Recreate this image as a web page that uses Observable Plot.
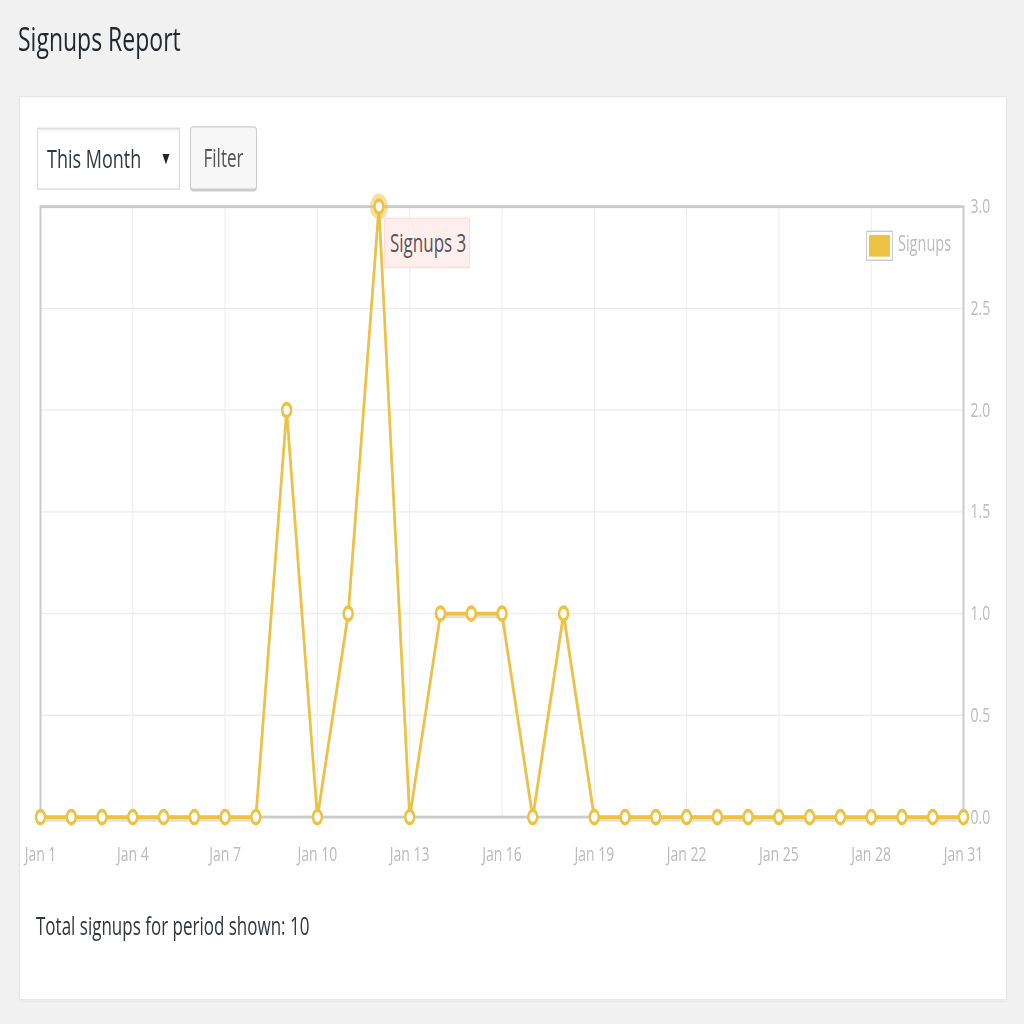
<!DOCTYPE html>
<html>
<head>
<meta charset="utf-8">
<script src="https://cdn.jsdelivr.net/npm/d3@7"></script>
<script src="https://cdn.jsdelivr.net/npm/@observablehq/plot@0.6"></script>
<style>
  html, body { margin: 0; padding: 0; background: #f1f1f1; overflow: hidden; }
  body { width: 1024px; height: 1024px; font-family: "Open Sans", "Noto Sans", sans-serif; }
  #wrap { position: absolute; left: 0; top: 0; width: 1024px; height: 706.2px; transform: scaleY(1.45); transform-origin: 0 0; }
  .abs { position: absolute; }
  #title { left: 18px; top: 15px; font-size: 23px; line-height: 1; color: #23282d; font-weight: 500; margin: 0; }
  #panel { left: 19px; top: 66px; width: 988px; height: 624px; background: #fff; border: 1px solid #e5e5e5; box-sizing: border-box; box-shadow: 0 1px 1px rgba(0,0,0,.04); }
  #select { left: 37px; top: 88px; width: 143px; height: 43px; background: #fff; border: 1px solid #ddd; box-sizing: border-box; box-shadow: inset 0 1px 2px rgba(0,0,0,.07); }
  #select .txt { position: absolute; left: 9px; top: 11px; font-size: 18px; line-height: 1; color: #32373c; }
  #select .arr { position: absolute; left: 122px; top: 14px; font-size: 12px; line-height: 1; color: #222; }
  #filter { left: 190px; top: 87px; width: 67px; height: 44px; background: #f7f7f7; border: 1px solid #ccc; border-radius: 3px; box-sizing: border-box; box-shadow: 0 1px 0 #ccc; font-size: 17px; color: #555; text-align: center; line-height: 42px; }
  #chart { left: 24px; top: 130px; }
  #legbox { left: 866px; top: 159px; width: 27px; height: 21px; border: 1px solid #ccc; box-sizing: border-box; padding: 2px; background: #fff; }
  #legbox div { width: 100%; height: 100%; background: #edc240; }
  #legtxt { left: 898px; top: 161px; font-size: 14.5px; line-height: 1; color: #bbb; }
  #tip { left: 384px; top: 150px; width: 86px; height: 35px; background: #fee; border: 1px solid #fdd; box-sizing: border-box; font-size: 17px; color: #555; line-height: 33px; padding-left: 5px; }
  #total { left: 36px; top: 630px; font-size: 17px; line-height: 1; color: #32373c; }
</style>
</head>
<body>
<div id="wrap">
  <h1 id="title" class="abs">Signups Report</h1>
  <div id="panel" class="abs"></div>
  <div id="select" class="abs"><span class="txt">This Month</span><span class="arr">▼</span></div>
  <div id="filter" class="abs">Filter</div>
  <div id="chart" class="abs"></div>
  <div id="legbox" class="abs"><div></div></div>
  <div id="legtxt" class="abs">Signups</div>
  <div id="tip" class="abs"></div>
  <div id="total" class="abs"></div>
</div>
<script>
// ---- data ----
const seriesName = "Signups";
const monthLabel = "Jan";
const days = [1,2,3,4,5,6,7,8,9,10,11,12,13,14,15,16,17,18,19,20,21,22,23,24,25,26,27,28,29,30,31];
const signups = [0,0,0,0,0,0,0,0,2,0,1,3,0,1,1,1,0,1,0,0,0,0,0,0,0,0,0,0,0,0,0];
const xTicks = [1,4,7,10,13,16,19,22,25,28,31];
const yTicks = [0,0.5,1,1.5,2,2.5,3];

const color = "#edc240";
const data = days.map((d, i) => ({day: d, value: signups[i]}));
const maxVal = d3.max(signups);
const highlight = data.filter(d => d.value === maxVal);

document.getElementById("tip").textContent = `${seriesName} ${maxVal}`;
document.getElementById("total").textContent = `Total signups for period shown: ${d3.sum(signups)}`;

const chart = Plot.plot({
  width: 990,
  height: 490,
  marginLeft: 16,
  marginRight: 51,
  marginTop: 12,
  marginBottom: 57,
  style: {fontFamily: "'Open Sans', 'Noto Sans', sans-serif", fontSize: "14px", color: "#bbb", background: "transparent", overflow: "visible"},
  x: {domain: [1, 31]},
  y: {domain: [0, 3]},
  marks: [
    Plot.ruleX(xTicks, {x: d => d, stroke: "#ececec", strokeWidth: 1}),
    Plot.ruleY(yTicks, {y: d => d, stroke: "#ececec", strokeWidth: 1}),
    Plot.frame({stroke: "#cbcbcb", strokeWidth: 2}),
    Plot.axisX(xTicks, {tickSize: 0, tickPadding: 20, tickFormat: d => `${monthLabel} ${d}`, fill: "#bbb", label: null}),
    Plot.axisY(yTicks, {anchor: "right", tickSize: 0, tickPadding: 7, tickFormat: d => d.toFixed(1), fill: "#bbb", label: null}),
    Plot.line(data, {x: "day", y: "value", stroke: "#000", strokeOpacity: 0.12, strokeWidth: 2.5, dy: 2}),
    Plot.line(data, {x: "day", y: "value", stroke: color, strokeWidth: 2.6}),
    Plot.dot(highlight, {x: "day", y: "value", r: 6.5, fill: "none", stroke: color, strokeOpacity: 0.5, strokeWidth: 5}),
    Plot.dot(data, {x: "day", y: "value", r: 4.5, fill: "#fff", stroke: color, strokeWidth: 2.5})
  ]
});
document.getElementById("chart").appendChild(chart);
</script>
</body>
</html>
